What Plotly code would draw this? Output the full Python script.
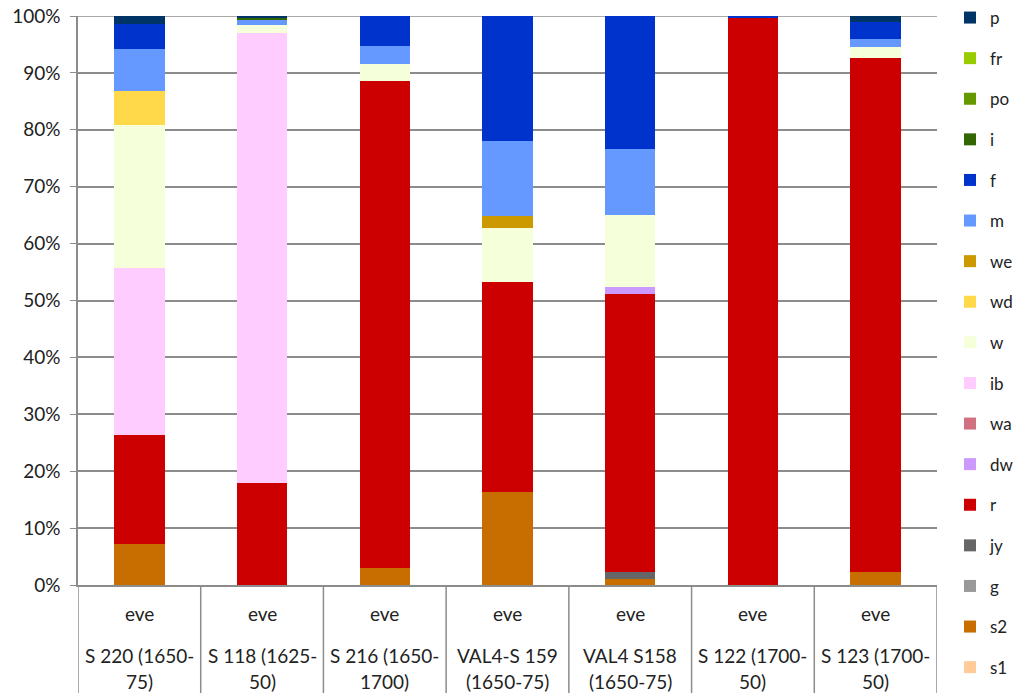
import plotly.graph_objects as go

# samples (outer label) and period (inner label)
samples = ["S 220 (1650-<br>75)", "S 118 (1625-<br>50)", "S 216 (1650-<br>1700)",
           "VAL4-S 159<br>(1650-75)", "VAL4 S158<br>(1650-75)", "S 122 (1700-<br>50)",
           "S 123 (1700-<br>50)"]
period = ["eve"] * 7
cats = ["c%d" % i for i in range(len(samples))]

# shares in %, stacked bottom -> top
s1 = [0, 0, 0, 0, 0, 0, 0]
s2 = [7.2, 0, 3.0, 16.4, 1.0, 0, 2.3]
g = [0, 0, 0, 0, 0, 0, 0]
jy = [0, 0, 0, 0, 1.2, 0, 0]
r = [19.2, 17.9, 85.6, 36.9, 49.0, 99.6, 90.4]
dw = [0, 0, 0, 0, 1.1, 0, 0]
wa = [0, 0, 0, 0, 0, 0, 0]
ib = [29.4, 79.2, 0, 0, 0, 0, 0]
w = [25.0, 1.3, 2.9, 9.4, 12.7, 0, 1.8]
wd = [6.0, 0, 0, 0, 0, 0, 0]
we = [0, 0, 0, 2.1, 0, 0, 0]
m = [7.4, 0.9, 3.2, 13.2, 11.6, 0, 1.45]
f = [4.4, 0, 5.3, 22.0, 23.4, 0.4, 2.95]
i_ = [0, 0.35, 0, 0, 0, 0, 0]
po = [0, 0, 0, 0, 0, 0, 0]
fr = [0, 0, 0, 0, 0, 0, 0]
p = [1.4, 0.35, 0, 0, 0, 0, 1.1]

series = [
    ("s1", s1, "#FFCC99"), ("s2", s2, "#C86E00"), ("g", g, "#999999"),
    ("jy", jy, "#666666"), ("r", r, "#CC0000"), ("dw", dw, "#CC99FF"),
    ("wa", wa, "#D07080"), ("ib", ib, "#FFCCFF"), ("w", w, "#F5FFD9"),
    ("wd", wd, "#FFD94A"), ("we", we, "#CC9900"), ("m", m, "#6699FF"),
    ("f", f, "#0033CC"), ("i", i_, "#336600"), ("po", po, "#669900"),
    ("fr", fr, "#99CC00"), ("p", p, "#003366"),
]

FONT = "Lato, 'Open Sans', sans-serif"
GRID = "#8c8c8c"
LBL = 19
W, H = 1019, 693
ML, MT, PW, PH = 78, 16, 859, 569

fig = go.Figure()
n = len(series)
for k, (name, vals, col) in enumerate(series):
    fig.add_trace(go.Bar(x=cats, y=vals, name=name, legendgroup=name,
                         legendrank=n - k, hoverinfo="skip",
                         marker=dict(color=col, line=dict(width=0))))

fig.update_layout(
    barmode="stack", barnorm="percent", bargap=0.59,
    width=W, height=H, autosize=False, hovermode=False,
    margin=dict(l=ML, r=W - ML - PW, t=MT, b=H - MT - PH),
    plot_bgcolor="white", paper_bgcolor="white",
    font=dict(family=FONT, size=16, color="#222"),
    legend=dict(xref="container", yref="container",
                x=950 / W, xanchor="left", y=1.0, yanchor="top",
                traceorder="grouped", tracegroupgap=15.5,
                font=dict(size=17), itemclick=False, maxheight=H),
    showlegend=True,
)

fig.update_yaxes(range=[0, 100], dtick=10, ticksuffix="%", showgrid=True,
                 gridcolor=GRID, gridwidth=1.5, showline=True, linecolor=GRID,
                 linewidth=1.5, ticks="outside", ticklen=6, tickcolor=GRID,
                 tickfont=dict(size=LBL), ticklabelstandoff=6, zeroline=False,
                 ticklabeloverflow="allow", automargin=False)
fig.update_xaxes(showticklabels=False, showline=True, linecolor=GRID,
                 linewidth=1.5, range=[-0.5, len(cats) - 0.5], automargin=False)

# top gridline (plotly drops the grid line at the range end)
fig.add_shape(type="line", xref="paper", x0=0, x1=1, yref="y", y0=100, y1=100,
              line=dict(color=GRID, width=1.5), layer="below")

# category table below the axis (offsets in px below the 0% line)
for k in range(len(cats) + 1):
    fig.add_shape(type="line", xref="x", yref="paper", x0=k - 0.5, x1=k - 0.5,
                  y0=0, y1=-112 / PH, line=dict(color=GRID, width=1.5))
for k, c in enumerate(cats):
    top, bot = samples[k].split("<br>")
    for txt, dy in ((period[k], 28), (top, 70), (bot, 96)):
        fig.add_annotation(x=c, xref="x", yref="paper", y=-dy / PH,
                           text=txt, showarrow=False, yanchor="middle",
                           font=dict(size=LBL))

fig.write_html("out.html", config={"displayModeBar": False},
               post_script="document.body.style.margin='0';")
